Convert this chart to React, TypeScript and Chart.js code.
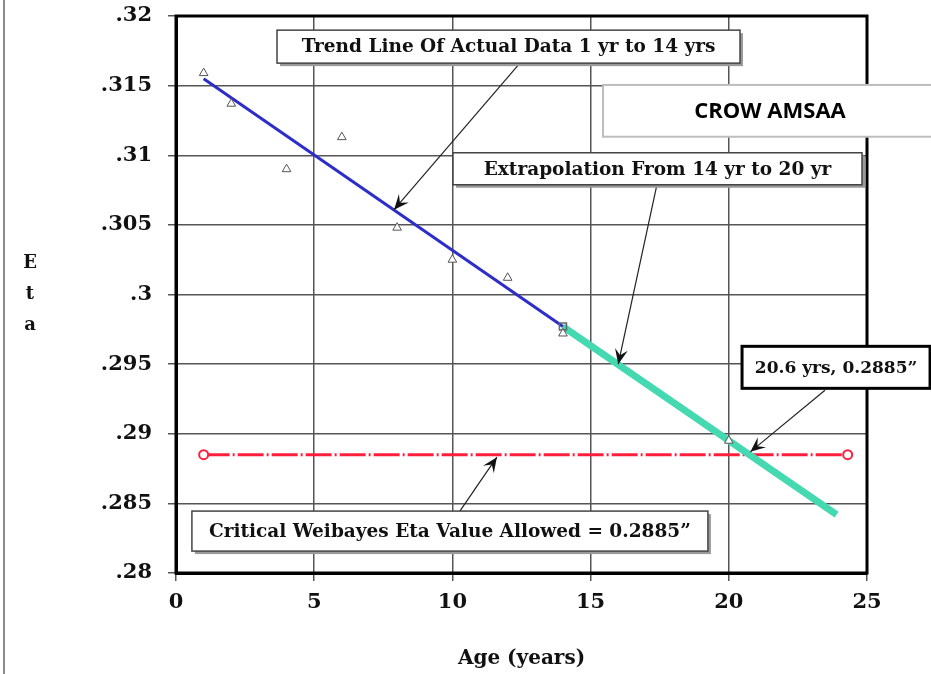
import React, { useEffect, useRef } from "react";
import { Chart, registerables } from "chart.js";

Chart.register(...registerables);

// ---- data ----
const obsAges = [1, 2, 4, 6, 8, 10, 12, 14, 20];
const obsEta = [0.3159, 0.3137, 0.309, 0.3113, 0.3048, 0.3025, 0.3012, 0.2972, 0.2895];
const trendAges = [1, 14];
const trendEta = [0.3155, 0.2977];
const extrapAges = [14, 23.9];
const extrapEta = [0.2977, 0.2842];
const criticalAges = [1, 24.3];
const criticalEta = [0.2885, 0.2885];
const endMarkerAges = [14];
const endMarkerEta = [0.2977];
const yTickValues = [0.28, 0.285, 0.29, 0.295, 0.3, 0.305, 0.31, 0.315, 0.32];
const yTickLabels = [".28", ".285", ".29", ".295", ".3", ".305", ".31", ".315", ".32"];
const xTickLabels = ["0", "5", "10", "15", "20", "25"];

const SERIF = '"DejaVu Serif", serif';

type Ann = {
  text: string;
  cx: number;
  cy: number;
  w: number;
  h: number;
  kind: "shadow" | "bold";
  from: [number, number];
  to: [number, number];
  size: number;
};

const annotations: Ann[] = [
  { text: "Trend Line Of Actual Data 1 yr to 14 yrs", cx: 12.03, cy: 0.3178, w: 463, h: 33, kind: "shadow", from: [12.45, 0.31663], to: [7.89, 0.30609], size: 18.5 },
  { text: "Extrapolation From 14 yr to 20 yr", cx: 17.42, cy: 0.30903, w: 409, h: 32, kind: "shadow", from: [17.4, 0.30789], to: [16.0, 0.2950], size: 18.5 },
  { text: "20.6 yrs, 0.2885\u201D", cx: 23.88, cy: 0.29477, w: 188, h: 42, kind: "bold", from: [23.48, 0.29312], to: [20.78, 0.2887], size: 17 },
  { text: "Critical Weibayes Eta Value Allowed = 0.2885\u201D", cx: 9.91, cy: 0.28301, w: 516, h: 40, kind: "shadow", from: [10.27, 0.28444], to: [11.61, 0.28832], size: 18.5 },
];

function drawArrow(ctx: CanvasRenderingContext2D, x1: number, y1: number, x2: number, y2: number) {
  ctx.save();
  ctx.strokeStyle = "#222";
  ctx.lineWidth = 1.2;
  ctx.beginPath();
  ctx.moveTo(x1, y1);
  ctx.lineTo(x2, y2);
  ctx.stroke();
  const a = Math.atan2(y2 - y1, x2 - x1);
  const L = 15, W = 6.5;
  const bx = x2 - L * Math.cos(a), by = y2 - L * Math.sin(a);
  const nx = x2 - L * 0.6 * Math.cos(a), ny = y2 - L * 0.6 * Math.sin(a);
  const px = -Math.sin(a), py = Math.cos(a);
  ctx.fillStyle = "#111";
  ctx.beginPath();
  ctx.moveTo(x2, y2);
  ctx.lineTo(bx + px * W, by + py * W);
  ctx.lineTo(nx, ny);
  ctx.lineTo(bx - px * W, by - py * W);
  ctx.closePath();
  ctx.fill();
  ctx.restore();
}

const framePlugin = {
  id: "frame",
  beforeDatasetsDraw(chart: any) {
    const { ctx, chartArea: a } = chart;
    ctx.save();
    ctx.strokeStyle = "#000";
    ctx.lineWidth = 3;
    ctx.strokeRect(a.left, a.top, a.right - a.left, a.bottom - a.top);
    ctx.restore();
  },
};

const annPlugin = {
  id: "annotations",
  afterDraw(chart: any) {
    const { ctx, chartArea: area } = chart;
    const xs = chart.scales.x, ys = chart.scales.y;
    ctx.save();
    // outer image edge line
    ctx.fillStyle = "#8a8a8a";
    ctx.fillRect(3, 0, 2, chart.height);

    for (const an of annotations) {
      drawArrow(ctx, xs.getPixelForValue(an.from[0]), ys.getPixelForValue(an.from[1]), xs.getPixelForValue(an.to[0]), ys.getPixelForValue(an.to[1]));
    }
    for (const an of annotations) {
      const cx = xs.getPixelForValue(an.cx);
      const cy = ys.getPixelForValue(an.cy);
      const x = cx - an.w / 2, y = cy - an.h / 2;
      if (an.kind === "shadow") {
        ctx.fillStyle = "#9a9a9a";
        ctx.fillRect(x + 3, y + 3, an.w, an.h);
        ctx.fillStyle = "#fff";
        ctx.fillRect(x, y, an.w, an.h);
        ctx.strokeStyle = "#444";
        ctx.lineWidth = 1.5;
        ctx.strokeRect(x, y, an.w, an.h);
      } else {
        ctx.fillStyle = "#fff";
        ctx.fillRect(x, y, an.w, an.h);
        ctx.strokeStyle = "#000";
        ctx.lineWidth = 3;
        ctx.strokeRect(x, y, an.w, an.h);
      }
      ctx.fillStyle = "#111";
      ctx.font = `bold ${an.size}px ${SERIF}`;
      ctx.textAlign = "center";
      ctx.textBaseline = "middle";
      ctx.fillText(an.text, cx, cy + 1);
    }

    // CROW AMSAA box
    const bx = xs.getPixelForValue(15.45);
    const by = ys.getPixelForValue(0.31505);
    const bb = ys.getPixelForValue(0.31133);
    ctx.fillStyle = "#fff";
    ctx.fillRect(bx, by, chart.width - bx + 5, bb - by);
    ctx.strokeStyle = "#bdbdbd";
    ctx.lineWidth = 2;
    ctx.strokeRect(bx, by, chart.width - bx + 5, bb - by);
    ctx.fillStyle = "#000";
    ctx.font = 'bold 22px "Open Sans", sans-serif';
    ctx.textAlign = "center";
    ctx.textBaseline = "middle";
    ctx.fillText("CROW AMSAA", bx + 167, (by + bb) / 2 + 1);

    // axis titles
    ctx.fillStyle = "#111";
    ctx.font = `bold 20px ${SERIF}`;
    ctx.fillText("Age (years)", (area.left + area.right) / 2, 659);
    ctx.font = `bold 18px ${SERIF}`;
    const etaMid = (area.top + area.bottom) / 2;
    ["E", "t", "a"].forEach((ch, i) => ctx.fillText(ch, 30, etaMid - 31 + i * 31));
    ctx.restore();
  },
};

export default function App() {
  const ref = useRef<HTMLCanvasElement | null>(null);
  useEffect(() => {
    if (!ref.current) return;
    const pts = (xs: number[], ys: number[]) => xs.map((x, i) => ({ x, y: ys[i] }));
    const chart = new Chart(ref.current, {
      type: "scatter",
      data: {
        datasets: [
          {
            label: "Observed",
            data: pts(obsAges, obsEta),
            pointStyle: "triangle",
            pointRadius: 5,
            borderColor: "#555",
            backgroundColor: "#fff",
            borderWidth: 1,
            order: 0,
          },
          {
            label: "End",
            data: pts(endMarkerAges, endMarkerEta),
            pointStyle: "rect",
            pointRadius: 5,
            borderColor: "#666",
            backgroundColor: "rgba(255,255,255,0)",
            borderWidth: 1.5,
            order: 1,
          },
          {
            label: "Trend",
            type: "line",
            data: pts(trendAges, trendEta),
            borderColor: "#2d2dc8",
            borderWidth: 3,
            pointRadius: 0,
            showLine: true,
            order: 2,
          },
          {
            label: "Extrapolation",
            type: "line",
            data: pts(extrapAges, extrapEta),
            borderColor: "#44d9b0",
            borderWidth: 7,
            pointRadius: 0,
            showLine: true,
            order: 3,
          },
          {
            label: "Critical",
            type: "line",
            data: pts(criticalAges, criticalEta),
            borderColor: "#ff1f3d",
            borderWidth: 3,
            borderDash: [26, 3, 2, 3],
            pointRadius: 4.5,
            pointBorderWidth: 2,
            pointBackgroundColor: "#fff",
            pointBorderColor: "#ff1f3d",
            showLine: true,
            order: 4,
          },
        ],
      },
      options: {
        responsive: false,
        animation: false,
        events: [],
        layout: { padding: { left: 0, top: 16, right: 64, bottom: 0 } },
        plugins: { legend: { display: false }, tooltip: { enabled: false } },
        scales: {
          x: {
            type: "linear",
            min: 0,
            max: 25,
            afterFit: (s: any) => { s.height = 101; s.paddingLeft = 0; s.paddingRight = 0; },
            afterBuildTicks: (s: any) => { s.ticks = xTickLabels.map((t) => ({ value: Number(t) })); },
            ticks: {
              callback: (v: any) => xTickLabels.find((t) => Number(t) === v) ?? "",
              font: { family: SERIF, size: 21, weight: "bold" },
              color: "#111",
              padding: 9,
              maxRotation: 0,
            },
            grid: { color: "#555", lineWidth: 1.5, tickLength: 8 },
            border: { display: true, color: "#000", width: 3 },
          },
          y: {
            type: "linear",
            min: 0.28,
            max: 0.32,
            afterFit: (s: any) => { s.width = 176; s.paddingTop = 0; s.paddingBottom = 0; },
            afterBuildTicks: (s: any) => { s.ticks = yTickValues.map((v) => ({ value: v })); },
            ticks: {
              callback: (v: any) => {
                const i = yTickValues.findIndex((t) => Math.abs(t - v) < 1e-6);
                return i >= 0 ? yTickLabels[i] : "";
              },
              font: { family: SERIF, size: 21, weight: "bold" },
              color: "#111",
              padding: 16,
            },
            grid: { color: "#555", lineWidth: 1.5, tickLength: 8 },
            border: { display: true, color: "#000", width: 3 },
          },
        },
      },
      plugins: [framePlugin, annPlugin],
    });
    return () => chart.destroy();
  }, []);
  return (
    <div style={{ position: "fixed", left: 0, top: 0, width: 931, height: 674, background: "#fff" }}>
      <canvas ref={ref} width={931} height={674} />
    </div>
  );
}
